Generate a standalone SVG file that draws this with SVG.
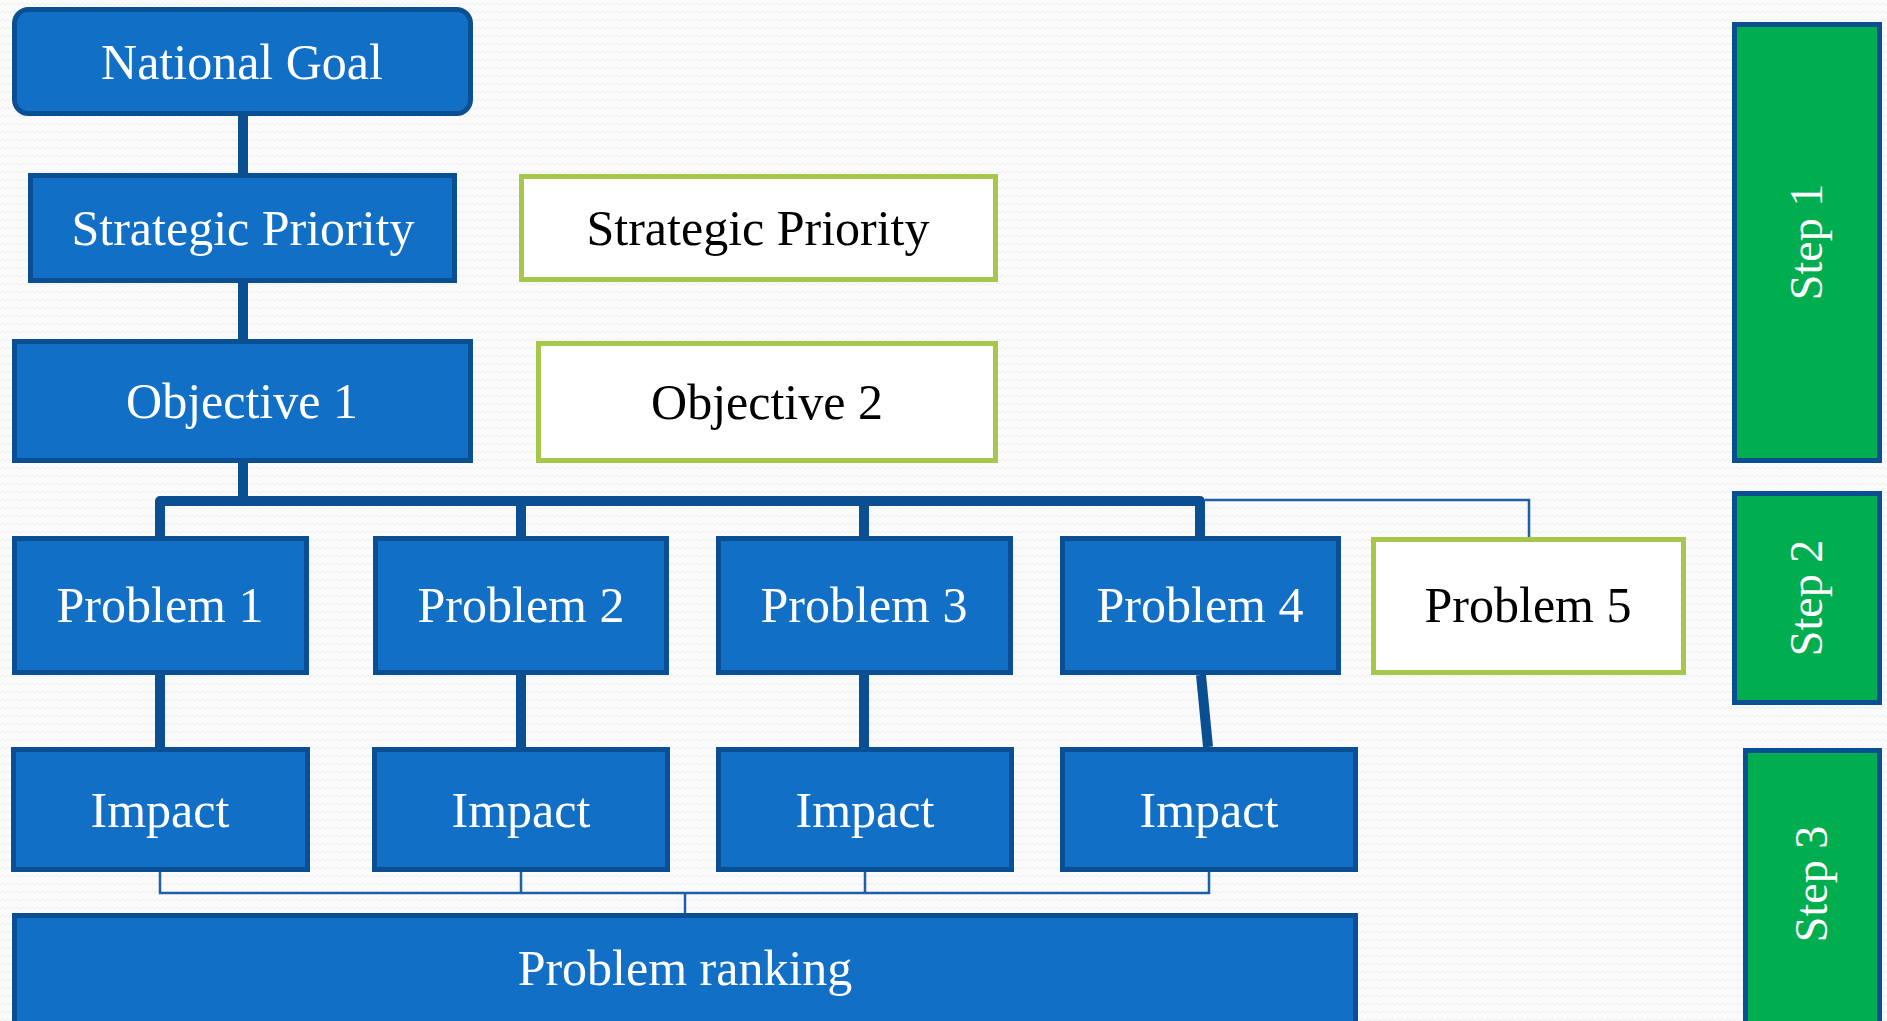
<svg xmlns="http://www.w3.org/2000/svg" width="1887" height="1021" viewBox="0 0 1887 1021">
<defs>
<pattern id="bg" width="10" height="8" patternUnits="userSpaceOnUse">
<rect width="10" height="8" fill="#fbfbfb"/>
<path d="M0 5 L2.5 3 L5 5 L7.5 3 L10 5" fill="none" stroke="#eeeeee" stroke-width="1"/>
</pattern>
<style>
.blue{fill:#116fc5;stroke:#0b4f93;stroke-width:5}
.lime{fill:#ffffff;stroke:#a6c64c;stroke-width:5}
.green{fill:#00ad4f;stroke:#0b4f93;stroke-width:5}
.t{font-family:"Liberation Serif","DejaVu Serif",serif;font-size:50px;text-anchor:middle}
.w{fill:#ffffff}
.k{fill:#000000}
.s{font-family:"Liberation Serif","DejaVu Serif",serif;font-size:46px;text-anchor:middle;fill:#ffffff}
.thick{fill:none;stroke:#0b4f93;stroke-width:10;stroke-linejoin:round}
.thin{fill:none;stroke:#1f5fa8;stroke-width:2.5}
</style>
</defs>
<rect width="1887" height="1021" fill="url(#bg)"/>

<g id="connectors">
<path class="thick" d="M243 116 V173"/>
<path class="thick" d="M243 283 V339"/>
<path class="thick" d="M243 463 V501"/>
<path class="thick" d="M160 536 V501 H1200 V536"/>
<path class="thick" d="M521 501 V536"/>
<path class="thick" d="M864 501 V536"/>
<path class="thin" d="M1205 500 H1529 V537"/>
<path class="thick" d="M160 675 V747"/>
<path class="thick" d="M521 675 V747"/>
<path class="thick" d="M864 675 V747"/>
<path class="thick" d="M1201 675 L1208 747"/>
<path class="thin" d="M160 872 V893 H1209 V872"/>
<path class="thin" d="M521 872 V893"/>
<path class="thin" d="M865 872 V893"/>
<path class="thin" d="M685 893 V913"/>
</g>

<g id="national-goal">
<rect class="blue" x="14.5" y="9.5" width="456" height="104" rx="14"/>
<text class="t w" x="242" y="79">National Goal</text>
</g>
<g id="strategic-priority-1">
<rect class="blue" x="30.5" y="175.5" width="424" height="105"/>
<text class="t w" x="243" y="245">Strategic Priority</text>
</g>
<g id="strategic-priority-2">
<rect class="lime" x="521.5" y="176.5" width="474" height="103"/>
<text class="t k" x="758" y="245">Strategic Priority</text>
</g>
<g id="objective-1">
<rect class="blue" x="14.5" y="341.5" width="456" height="119"/>
<text class="t w" x="242" y="418">Objective 1</text>
</g>
<g id="objective-2">
<rect class="lime" x="538.5" y="343.5" width="457" height="117"/>
<text class="t k" x="767" y="419">Objective 2</text>
</g>
<g id="problem-1">
<rect class="blue" x="14.5" y="538.5" width="292" height="134"/>
<text class="t w" x="160" y="622">Problem 1</text>
</g>
<g id="problem-2">
<rect class="blue" x="375.5" y="538.5" width="291" height="134"/>
<text class="t w" x="521" y="622">Problem 2</text>
</g>
<g id="problem-3">
<rect class="blue" x="718.5" y="538.5" width="292" height="134"/>
<text class="t w" x="864" y="622">Problem 3</text>
</g>
<g id="problem-4">
<rect class="blue" x="1062.5" y="538.5" width="276" height="134"/>
<text class="t w" x="1200" y="622">Problem 4</text>
</g>
<g id="problem-5">
<rect class="lime" x="1373.5" y="539.5" width="310" height="133"/>
<text class="t k" x="1528" y="622">Problem 5</text>
</g>
<g id="impact-1">
<rect class="blue" x="13.5" y="749.5" width="294" height="120"/>
<text class="t w" x="160" y="827">Impact</text>
</g>
<g id="impact-2">
<rect class="blue" x="374.5" y="749.5" width="293" height="120"/>
<text class="t w" x="521" y="827">Impact</text>
</g>
<g id="impact-3">
<rect class="blue" x="718.5" y="749.5" width="293" height="120"/>
<text class="t w" x="865" y="827">Impact</text>
</g>
<g id="impact-4">
<rect class="blue" x="1062.5" y="749.5" width="293" height="120"/>
<text class="t w" x="1209" y="827">Impact</text>
</g>
<g id="problem-ranking">
<rect class="blue" x="14.5" y="915.5" width="1341" height="120"/>
<text class="t w" x="685" y="985">Problem ranking</text>
</g>
<g id="step-1">
<rect class="green" x="1734.5" y="24.5" width="145" height="436"/>
<text class="s" transform="translate(1807 242) rotate(-90)" y="15">Step 1</text>
</g>
<g id="step-2">
<rect class="green" x="1734.5" y="493.5" width="145" height="209"/>
<text class="s" transform="translate(1807 598) rotate(-90)" y="15">Step 2</text>
</g>
<g id="step-3">
<rect class="green" x="1745.5" y="750.5" width="134" height="285"/>
<text class="s" transform="translate(1812 884) rotate(-90)" y="15">Step 3</text>
</g>
</svg>
